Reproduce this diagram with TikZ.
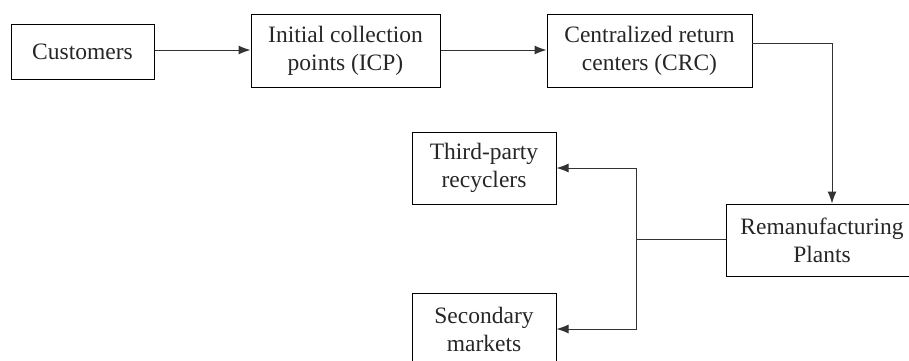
\documentclass[tikz,border=0pt]{standalone}
\usepackage{fontspec}
\setmainfont{Liberation Serif}
\usetikzlibrary{arrows.meta}
\begin{document}
\begin{tikzpicture}
  [x=1pt,y=-1pt,
   box/.style={draw,line width=1pt,align=center,inner sep=0pt,text=black!85,
     font=\fontsize{23.5}{28}\selectfont},
   flow/.style={line width=1pt,draw=black!80,-{Latex[length=12pt,width=9pt]}},
   link/.style={line width=1pt,draw=black!80}]

  \useasboundingbox (0,0) rectangle (909,360);
  \clip (0,0) rectangle (909,360);

  % top row
  \node[box,minimum width=143pt,minimum height=55pt] (cust) at (82.5,51.5) {Customers};
  \node[box,minimum width=189pt,minimum height=73pt] (icp) at (345.5,50.5) {Initial collection\\points (ICP)};
  \node[box,minimum width=205pt,minimum height=73pt] (crc) at (649.5,50.5) {Centralized return\\centers (CRC)};

  % lower part
  \node[box,minimum width=192pt,minimum height=72pt] (reman) at (822,240) {Remanufacturing\\Plants};
  \node[box,minimum width=144pt,minimum height=72pt] (third) at (484,168) {Third-party\\recyclers};
  \node[box,minimum width=144pt,minimum height=72pt] (second) at (484,329) {Secondary\\markets};

  \coordinate (crcout) at (752,43);
  \coordinate (down) at (832,43);
  \coordinate (join) at (636,239.5);

  \draw[flow] (cust.east |- 0,50) -- (icp.west |- 0,50);
  \draw[flow] (icp.east |- 0,50) -- (crc.west |- 0,50);
  \draw[flow] (crcout) -- (down) -- (down |- reman.north);

  \draw[link] (reman.west |- join) -- (join);
  \draw[flow] (join) |- (third.east);
  \draw[flow] (join) |- (second.east);
\end{tikzpicture}
\end{document}
